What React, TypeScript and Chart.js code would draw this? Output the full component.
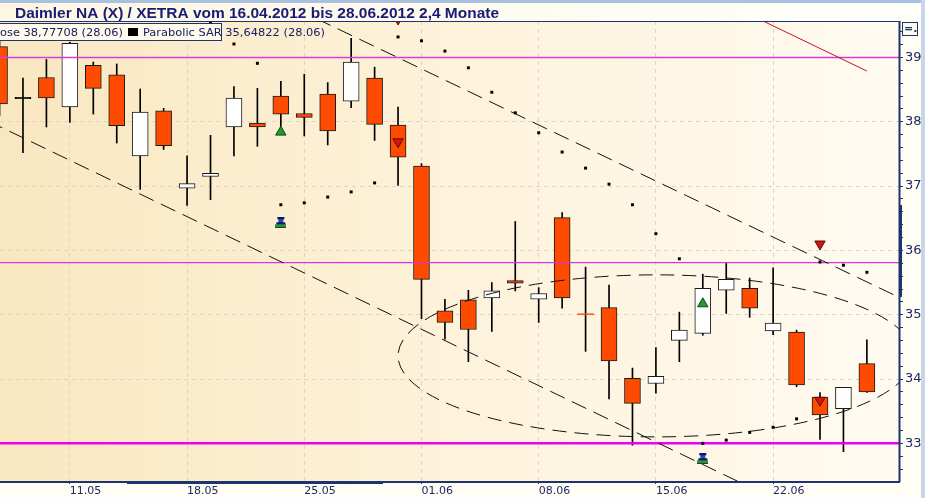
import React, { useEffect, useRef } from "react";
import { Chart, registerables } from "chart.js";

Chart.register(...registerables);

// ---------- data ----------
const DATES = [
  "08.05", "09.05", "10.05", "11.05", "14.05", "15.05", "16.05", "17.05", "18.05",
  "21.05", "22.05", "23.05", "24.05", "25.05", "28.05", "29.05", "30.05", "31.05",
  "01.06", "04.06", "05.06", "06.06", "07.06", "08.06", "11.06", "12.06", "13.06",
  "14.06", "15.06", "18.06", "19.06", "20.06", "21.06", "22.06", "25.06", "26.06",
  "27.06", "28.06",
];
const OPEN = [
  39.17, 38.37, 38.69, 38.23, 38.88, 38.73, 37.47, 38.17, 36.97, 37.15, 37.92, 37.98,
  38.4, 38.13, 38.43, 38.32, 38.68, 37.95, 37.31, 35.06, 35.23, 35.26, 35.53, 35.24,
  36.51, 35.012, 35.11, 34.01, 33.93, 34.6, 34.71, 35.38, 35.41, 34.75, 34.73, 33.72,
  33.54, 34.24,
];
const HIGH = [
  39.3, 38.68, 38.97, 39.24, 38.93, 38.9, 38.51, 38.21, 37.47, 37.79, 38.55, 38.52,
  38.63, 38.74, 38.61, 39.3, 38.85, 38.23, 37.35, 35.24, 35.38, 35.5, 36.45, 35.42,
  36.59, 35.74, 35.46, 34.17, 34.49, 35.04, 35.63, 35.81, 35.57, 35.73, 34.76, 33.79,
  33.87, 34.61,
];
const LOW = [
  38.1, 37.52, 37.92, 37.99, 38.12, 37.67, 36.95, 37.57, 36.7, 36.79, 37.47, 37.62,
  37.93, 37.78, 37.64, 38.22, 37.71, 37.01, 34.94, 34.62, 34.27, 34.74, 35.37, 34.88,
  35.1, 34.43, 33.69, 32.97, 33.78, 34.27, 34.68, 35.02, 34.96, 34.69, 33.88, 33.06,
  32.87, 33.79,
];
const CLOSE = [
  38.28, 38.37, 38.37, 39.22, 38.52, 37.94, 38.15, 37.63, 37.04, 37.2, 38.37, 37.92,
  38.12, 38.07, 37.86, 38.93, 37.96, 37.45, 35.55, 34.88, 34.77, 35.37, 35.49, 35.33,
  35.26, 35.0, 34.28, 33.62, 34.04, 34.76, 35.41, 35.55, 35.1, 34.87, 33.91, 33.44,
  33.87, 33.8,
];
const SAR: (number | null)[] = [
  null, null, null, null, null, null, null, null, null,
  39.54, 39.21, 38.91, 36.71, 36.74, 36.83, 36.91, 37.05, 39.32, 39.26, 39.1, 38.84,
  38.46, 38.14, 37.83, 37.53, 37.28, 37.03, 36.71, 36.26, 35.87, 33.0, 33.05, 33.17,
  33.25, 33.38, 35.82, 35.77, 35.66,
];
const TICK_IDX = [3, 8, 13, 18, 23, 28, 33];
const LEVELS = [39.0, 35.81, 33.0];
const LEVEL_WIDTHS = [1.4, 1.2, 2.5];
const LEVEL_COLORS = ["#d93ad9", "#d836d8", "#ee00ee"];
const UPPER_TREND_X = [13.5, 39];
const UPPER_TREND_Y = [39.608, 35.161];
const LOWER_TREND_X = [-0.5, 32];
const LOWER_TREND_Y = [38.015, 32.32];
const RED_TREND_X = [32.5, 37.0];
const RED_TREND_Y = [39.58, 38.79];
const ELLIPSE_CX = 28.0;
const ELLIPSE_CY = 34.36;
const ELLIPSE_RX = 11.0;
const ELLIPSE_RY = 1.26;
const BUY_IDX = [12, 30];
const BUY_VAL = [37.84, 35.17];
const SELL_IDX = [17, 17, 35, 35];
const SELL_VAL = [39.6, 37.69, 36.1, 33.67];
const SIGNAL_IDX = [12, 30];
const SIGNAL_VAL = [36.43, 32.76];
const TITLE = "Daimler NA (X) / XETRA vom 16.04.2012 bis 28.06.2012 2,4 Monate";
const LEGEND_CLOSE = "Close 38,77708 (28.06)";
const LEGEND_SAR = "Parabolic SAR 35,64822 (28.06)";

const X_MIN = 0.02;
const X_MAX = 38.37;
const Y_MIN = 32.414;
const Y_MAX = 39.568;

const NAVY = "#1c3470";
const ORANGE = "#ff4b00";

const isInt = (v: any) => typeof v === "number" && Math.abs(v - Math.round(v)) < 1e-6;

function makePawn(): HTMLCanvasElement {
  const c = document.createElement("canvas");
  c.width = 11;
  c.height = 11;
  const g = c.getContext("2d")!;
  g.fillStyle = "#0a1a5a";
  g.fillRect(2, 0, 7, 2);
  g.fillStyle = "#2a4ab8";
  g.fillRect(3, 2, 5, 3);
  g.fillStyle = "#0a1a5a";
  g.fillRect(1, 5, 9, 2);
  g.fillStyle = "#2f8f3a";
  g.fillRect(0, 7, 11, 3);
  g.fillStyle = "#0b2a16";
  g.fillRect(0, 10, 11, 1);
  return c;
}

function fitText(ctx: CanvasRenderingContext2D, text: string, x: number, y: number, sc: number) {
  ctx.save();
  ctx.translate(x, y);
  ctx.scale(sc, 1);
  ctx.fillText(text, 0, 0);
  ctx.restore();
}

const decorPlugin = {
  id: "decor",
  beforeDraw(chart: any) {
    const { ctx, chartArea: ca, width, height } = chart;
    ctx.save();
    ctx.fillStyle = "#fffdf4";
    ctx.fillRect(0, 0, width, height);
    const tg = ctx.createLinearGradient(0, 0, width, 0);
    tg.addColorStop(0, "#fdf6e2");
    tg.addColorStop(1, "#fffffb");
    ctx.fillStyle = tg;
    ctx.fillRect(0, 0, width, ca.top);
    ctx.fillStyle = "#a9c1e0";
    ctx.fillRect(0, 0, width, 3);
    const g = ctx.createLinearGradient(ca.left, 0, ca.right, 0);
    g.addColorStop(0, "#f9e7c0");
    g.addColorStop(0.5, "#fdf2da");
    g.addColorStop(1, "#fffbf1");
    ctx.fillStyle = g;
    ctx.fillRect(ca.left, ca.top, ca.right - ca.left, ca.bottom - ca.top);
    ctx.restore();
  },
  afterDatasetsDraw(chart: any) {
    const { ctx, chartArea: ca, scales } = chart;
    const x = scales.x;
    const y = scales.y;
    const cx = x.getPixelForValue(ELLIPSE_CX);
    const cy = y.getPixelForValue(ELLIPSE_CY);
    const rx = Math.abs(x.getPixelForValue(ELLIPSE_CX + ELLIPSE_RX) - cx);
    const ry = Math.abs(y.getPixelForValue(ELLIPSE_CY + ELLIPSE_RY) - cy);
    ctx.save();
    ctx.beginPath();
    ctx.rect(ca.left, ca.top, ca.right - ca.left, ca.bottom - ca.top);
    ctx.clip();
    ctx.setLineDash([14, 8]);
    ctx.strokeStyle = "#111111";
    ctx.lineWidth = 1;
    ctx.beginPath();
    ctx.ellipse(cx, cy, rx, ry, 0, 0, Math.PI * 2);
    ctx.stroke();
    ctx.restore();
  },
  afterDraw(chart: any) {
    const { ctx, chartArea: ca, width, height } = chart;
    ctx.save();
    // frame
    ctx.strokeStyle = NAVY;
    ctx.lineWidth = 1;
    ctx.beginPath();
    ctx.moveTo(0, ca.top + 0.5);
    ctx.lineTo(ca.right, ca.top + 0.5);
    ctx.stroke();
    ctx.lineWidth = 2;
    ctx.beginPath();
    ctx.moveTo(ca.right + 0.5, ca.top);
    ctx.lineTo(ca.right + 0.5, ca.bottom + 1);
    ctx.moveTo(0, ca.bottom + 1);
    ctx.lineTo(ca.right + 1, ca.bottom + 1);
    ctx.stroke();
    ctx.fillStyle = NAVY;
    ctx.fillRect(127, ca.bottom, 256, 3);
    ctx.fillRect(ca.right, 205, 3, 92);
    // right strip
    ctx.fillStyle = "#c7d6ea";
    ctx.fillRect(width - 4, 0, 4, height);
    // button
    ctx.fillStyle = "#fffbea";
    ctx.fillRect(902, 22, 15, 13);
    ctx.strokeStyle = NAVY;
    ctx.lineWidth = 1;
    ctx.strokeRect(902.5, 22.5, 15, 13);
    ctx.fillStyle = NAVY;
    ctx.font = 'bold 11px "DejaVu Sans"';
    ctx.fillText("=.", 904, 32);
    // title
    ctx.fillStyle = "#1a1a78";
    ctx.font = 'bold 15.5px "Liberation Sans"';
    const tw = ctx.measureText(TITLE).width;
    fitText(ctx, TITLE, 15, 18, 484 / tw);
    // legend box
    ctx.fillStyle = "#fffaec";
    ctx.fillRect(-1, 24, 223, 16);
    ctx.strokeStyle = NAVY;
    ctx.strokeRect(-1.5, 23.5, 223, 17);
    ctx.font = '11px "DejaVu Sans"';
    ctx.fillStyle = "#1a2060";
    const visW = ctx.measureText(LEGEND_CLOSE.slice(2)).width;
    const sc1 = 123 / visW;
    const clW = ctx.measureText(LEGEND_CLOSE.slice(0, 2)).width * sc1;
    fitText(ctx, LEGEND_CLOSE, -clW, 36, sc1);
    ctx.fillStyle = "#000000";
    ctx.fillRect(128, 28, 10, 8);
    ctx.fillStyle = "#1a2060";
    const sw = ctx.measureText(LEGEND_SAR).width;
    fitText(ctx, LEGEND_SAR, 143, 36, 182 / sw);
    ctx.restore();
  },
};

export default function App() {
  const ref = useRef<HTMLCanvasElement>(null);

  useEffect(() => {
    document.body.style.margin = "0";
    const canvas = ref.current!;
    const bodyFill = OPEN.map((o, i) =>
      CLOSE[i] > o ? "#ffffff" : CLOSE[i] < o ? ORANGE : "#000000"
    );
    const bodyBorder = OPEN.map((o, i) =>
      Math.abs(CLOSE[i] - o) < 0.02 ? bodyFill[i] : "#1a1a1a"
    );
    const bodyData = OPEN.map((o, i) => {
      const lo = Math.min(o, CLOSE[i]);
      const hi = Math.max(o, CLOSE[i]);
      const pad = hi - lo < 0.02 ? (0.02 - (hi - lo)) / 2 : 0;
      return { x: i, y: [lo - pad, hi + pad] };
    });
    const wickData = OPEN.map((_, i) => ({ x: i, y: [LOW[i], HIGH[i]] }));
    const sarData = SAR.map((v, i) => (v == null ? null : { x: i, y: v })).filter(
      (p) => p !== null
    );
    const levelSets = LEVELS.map((v, k) => ({
      type: "line",
      data: [
        { x: X_MIN - 1, y: v },
        { x: X_MAX + 1, y: v },
      ],
      borderColor: LEVEL_COLORS[k],
      borderWidth: LEVEL_WIDTHS[k],
      pointRadius: 0,
      clip: 0,
      order: 5,
    }));
    const trend = (xs: number[], ys: number[], color: string, dash: number[]) => ({
      type: "line",
      data: xs.map((xv, k) => ({ x: xv, y: ys[k] })),
      borderColor: color,
      borderWidth: 1,
      borderDash: dash,
      pointRadius: 0,
      clip: 0,
      order: 4,
    });

    const chart = new Chart(canvas, {
      type: "bar",
      data: {
        datasets: [
          {
            type: "bar",
            data: wickData,
            backgroundColor: "#000000",
            barThickness: 1,
            grouped: false,
            order: 10,
          },
          {
            type: "bar",
            data: bodyData,
            backgroundColor: bodyFill,
            borderColor: bodyBorder,
            borderWidth: 1,
            borderSkipped: false,
            barThickness: 16,
            grouped: false,
            order: 9,
          },
          ...levelSets,
          trend(UPPER_TREND_X, UPPER_TREND_Y, "#111111", [16, 8]),
          trend(LOWER_TREND_X, LOWER_TREND_Y, "#111111", [16, 8]),
          trend(RED_TREND_X, RED_TREND_Y, "#cc1020", []),
          {
            type: "scatter",
            data: sarData,
            pointStyle: "rect",
            pointRadius: 2.1,
            hoverRadius: 2.1,
            backgroundColor: "#000000",
            borderWidth: 0,
            clip: 0,
            order: 3,
          },
          {
            type: "scatter",
            data: BUY_IDX.map((xv, k) => ({ x: xv, y: BUY_VAL[k] })),
            pointStyle: "triangle",
            pointRadius: 6,
            hoverRadius: 6,
            backgroundColor: "#1f9a2f",
            borderColor: "#0b4a14",
            borderWidth: 1,
            clip: 0,
            order: 1,
          },
          {
            type: "scatter",
            data: SELL_IDX.map((xv, k) => ({ x: xv, y: SELL_VAL[k] })),
            pointStyle: "triangle",
            rotation: 180,
            pointRadius: 6,
            hoverRadius: 6,
            backgroundColor: "#cc1810",
            borderColor: "#6a0a05",
            borderWidth: 1,
            clip: 0,
            order: 1,
          },
          {
            type: "scatter",
            data: SIGNAL_IDX.map((xv, k) => ({ x: xv, y: SIGNAL_VAL[k] })),
            pointStyle: makePawn(),
            clip: 0,
            order: 1,
          },
        ] as any,
      },
      options: {
        responsive: false,
        animation: false,
        events: [],
        layout: { autoPadding: false, padding: { top: 21, left: 0, right: 0, bottom: 0 } },
        plugins: {
          legend: { display: false },
          tooltip: { enabled: false },
          title: { display: false },
        },
        scales: {
          x: {
            type: "linear",
            min: X_MIN,
            max: X_MAX,
            offset: false,
            afterFit: (s: any) => {
              s.height = 17;
            },
            afterBuildTicks: (s: any) => {
              s.ticks = TICK_IDX.map((v) => ({ value: v }));
            },
            ticks: {
              autoSkip: false,
              maxRotation: 0,
              minRotation: 0,
              align: "start",
              padding: 1,
              color: "#1b2a66",
              font: { family: "DejaVu Sans", size: 11 },
              callback: (v: any) => DATES[Math.round(v)] ?? "",
            },
            grid: {
              offset: false,
              color: "#dcd6c6",
              tickColor: NAVY,
              tickLength: 3,
              lineWidth: 1,
            },
            border: { display: false, dash: [4, 4] },
          },
          y: {
            type: "linear",
            position: "right",
            min: Y_MIN,
            max: Y_MAX,
            afterFit: (s: any) => {
              s.width = 26;
            },
            ticks: {
              stepSize: 0.2,
              includeBounds: false,
              autoSkip: false,
              padding: 2,
              color: "#1b2a66",
              font: { family: "DejaVu Sans", size: 13 },
              callback: (v: any) => (isInt(v) ? String(Math.round(v)) : ""),
            },
            grid: {
              color: (c: any) => (isInt(c.tick && c.tick.value) ? "#dcd6c6" : "rgba(0,0,0,0)"),
              tickColor: NAVY,
              tickLength: 4,
              lineWidth: 1,
            },
            border: { display: false, dash: [4, 4] },
          },
        },
      } as any,
      plugins: [decorPlugin],
    });
    return () => chart.destroy();
  }, []);

  return (
    <canvas
      ref={ref}
      width={925}
      height={498}
      style={{ display: "block", width: 925, height: 498 }}
    />
  );
}
